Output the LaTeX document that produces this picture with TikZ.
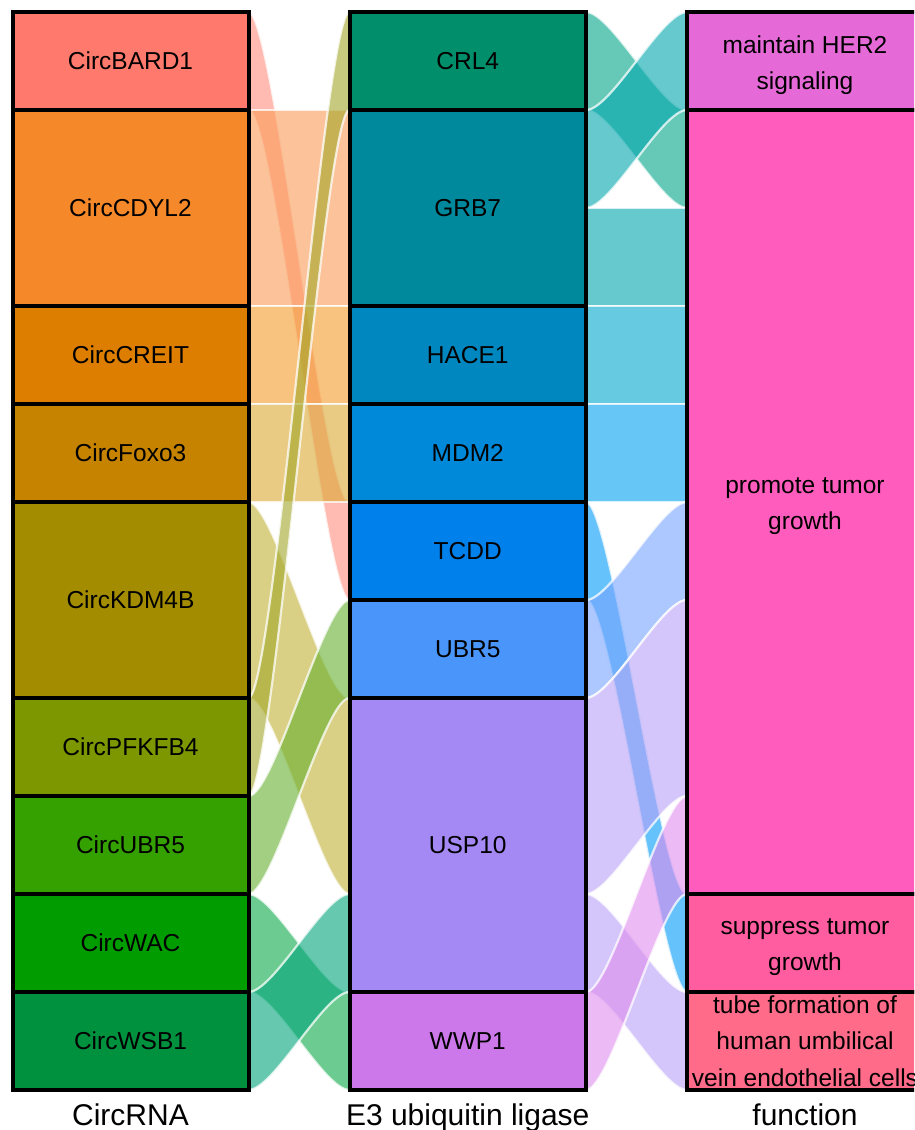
\documentclass[tikz,border=0pt]{standalone}
\usepackage{fontspec}
\setmainfont{Liberation Sans}
% box colours
\definecolor{cBARD}{HTML}{FF7A6C}
\definecolor{cCDYL}{HTML}{F5892A}
\definecolor{cCREIT}{HTML}{DE7E00}
\definecolor{cFOXO}{HTML}{C58300}
\definecolor{cKDM}{HTML}{A38C00}
\definecolor{cPFK}{HTML}{7D9700}
\definecolor{cCUBR}{HTML}{35A100}
\definecolor{cWAC}{HTML}{009C00}
\definecolor{cWSB}{HTML}{00913E}
\definecolor{cCRL}{HTML}{008E6B}
\definecolor{cGRB}{HTML}{00899C}
\definecolor{cHACE}{HTML}{0087BF}
\definecolor{cMDM}{HTML}{0088D9}
\definecolor{cTCDD}{HTML}{0080EA}
\definecolor{cUBR}{HTML}{4A95FA}
\definecolor{cUSP}{HTML}{A488F4}
\definecolor{cWWP}{HTML}{CC78EA}
\definecolor{cHER}{HTML}{E56AD8}
\definecolor{cPROM}{HTML}{FF5CBE}
\definecolor{cSUPP}{HTML}{FF5DA0}
\definecolor{cTUBE}{HTML}{FF6B88}
% flow colours
\definecolor{fBARD}{HTML}{FF8E7F}
\definecolor{fCDYL}{HTML}{FA9B57}
\definecolor{fCREIT}{HTML}{F39B2A}
\definecolor{fFOXO}{HTML}{DAA832}
\definecolor{fKDM}{HTML}{C1B134}
\definecolor{fPFK}{HTML}{A2A628}
\definecolor{fCUBR}{HTML}{66AF2F}
\definecolor{fWAC}{HTML}{0AA846}
\definecolor{fWSB}{HTML}{00A57A}
\definecolor{fCRL}{HTML}{00A589}
\definecolor{fGRB}{HTML}{00A5AD}
\definecolor{fHACE}{HTML}{00A7CB}
\definecolor{fMDM}{HTML}{00A0EE}
\definecolor{fTCDD}{HTML}{0099F7}
\definecolor{fUBR}{HTML}{76A3FF}
\definecolor{fUSP}{HTML}{B7A0F7}
\definecolor{fWWP}{HTML}{DF8CEE}
\tikzset{
  flowsty/.style={fill opacity=0.6, draw=white, draw opacity=0.75, line width=2.2pt},
  box/.style={draw=black, line width=4pt, minimum width=236pt, inner sep=0pt,
    font=\fontsize{24.5}{36.5}\selectfont, align=center},
  twoline/.style={yshift=-4pt},
  axislabel/.style={font=\fontsize{30}{36}\selectfont, anchor=base, inner sep=0pt}
}
% #1 xL, #2 xR, #3 a1, #4 a2, #5 b1, #6 b2, #7 colour
\newcommand\flowband[7]{%
  \path[flowsty, fill=#7] (#1,#3) .. controls ({#1+25.25},#3) and ({#2-25.25},#5) .. (#2,#5)
    -- (#2,#6) .. controls ({#2-25.25},#6) and ({#1+25.25},#4) .. (#1,#4) -- cycle;}
\begin{document}
\begin{tikzpicture}[x=1pt,y=-1pt]
\useasboundingbox (0,0) rectangle (914,1130);
\clip (0,0) rectangle (914,1130);
% flows CircRNA -> E3
\flowband{248.5}{349.5}{12}{110}{502}{600}{fBARD}
\flowband{248.5}{349.5}{110}{306}{110}{306}{fCDYL}
\flowband{248.5}{349.5}{306}{404}{306}{404}{fCREIT}
\flowband{248.5}{349.5}{404}{502}{404}{502}{fFOXO}
\flowband{248.5}{349.5}{502}{698}{698}{894}{fKDM}
\flowband{248.5}{349.5}{698}{796}{12}{110}{fPFK}
\flowband{248.5}{349.5}{796}{894}{600}{698}{fCUBR}
\flowband{248.5}{349.5}{894}{992}{992}{1090}{fWAC}
\flowband{248.5}{349.5}{992}{1090}{894}{992}{fWSB}
% flows E3 -> function
\flowband{586}{687}{12}{110}{110}{208}{fCRL}
\flowband{586}{687}{110}{208}{12}{110}{fGRB}
\flowband{586}{687}{208}{306}{208}{306}{fGRB}
\flowband{586}{687}{306}{404}{306}{404}{fHACE}
\flowband{586}{687}{404}{502}{404}{502}{fMDM}
\flowband{586}{687}{502}{600}{894}{992}{fTCDD}
\flowband{586}{687}{600}{698}{502}{600}{fUBR}
\flowband{586}{687}{698}{894}{600}{796}{fUSP}
\flowband{586}{687}{894}{992}{992}{1090}{fUSP}
\flowband{586}{687}{992}{1090}{796}{894}{fWWP}
% CircRNA column
\node[box, fill=cBARD, minimum height=98pt] (bard) at (130.5,61) {CircBARD1};
\node[box, fill=cCDYL, minimum height=196pt] (cdyl) at (130.5,208) {CircCDYL2};
\node[box, fill=cCREIT, minimum height=98pt] (creit) at (130.5,355) {CircCREIT};
\node[box, fill=cFOXO, minimum height=98pt] (foxo) at (130.5,453) {CircFoxo3};
\node[box, fill=cKDM, minimum height=196pt] (kdm) at (130.5,600) {CircKDM4B};
\node[box, fill=cPFK, minimum height=98pt] (pfk) at (130.5,747) {CircPFKFB4};
\node[box, fill=cCUBR, minimum height=98pt] (cubr) at (130.5,845) {CircUBR5};
\node[box, fill=cWAC, minimum height=98pt] (wac) at (130.5,943) {CircWAC};
\node[box, fill=cWSB, minimum height=98pt] (wsb) at (130.5,1041) {CircWSB1};
% E3 column
\node[box, fill=cCRL, minimum height=98pt] (crl) at (467.75,61) {CRL4};
\node[box, fill=cGRB, minimum height=196pt] (grb) at (467.75,208) {GRB7};
\node[box, fill=cHACE, minimum height=98pt] (hace) at (467.75,355) {HACE1};
\node[box, fill=cMDM, minimum height=98pt] (mdm) at (467.75,453) {MDM2};
\node[box, fill=cTCDD, minimum height=98pt] (tcdd) at (467.75,551) {TCDD};
\node[box, fill=cUBR, minimum height=98pt] (ubr) at (467.75,649) {UBR5};
\node[box, fill=cUSP, minimum height=294pt] (usp) at (467.75,845) {USP10};
\node[box, fill=cWWP, minimum height=98pt] (wwp) at (467.75,1041) {WWP1};
% function column
\node[box, fill=cHER, minimum height=98pt] (her) at (805,61) {};
\node[box, fill=cPROM, minimum height=784pt] (prom) at (805,502) {};
\node[box, fill=cSUPP, minimum height=98pt] (supp) at (805,943) {};
\node[box, fill=cTUBE, minimum height=98pt] (tube) at (805,1041) {};
\node[box, draw=none, twoline] (herl) at (her.center) {maintain HER2\\signaling};
\node[box, draw=none, twoline] (proml) at (prom.center) {promote tumor\\growth};
\node[box, draw=none, twoline] (suppl) at (supp.center) {suppress tumor\\growth};
\node[box, draw=none] (tubel) at (tube.center) {tube formation of\\human umbilical\\vein endothelial cells};
% axis labels
\node[axislabel] (ax1) at (130.5,1125) {CircRNA};
\node[axislabel] (ax2) at (467.75,1125) {E3 ubiquitin ligase};
\node[axislabel] (ax3) at (805,1125) {function};
\end{tikzpicture}
\end{document}
